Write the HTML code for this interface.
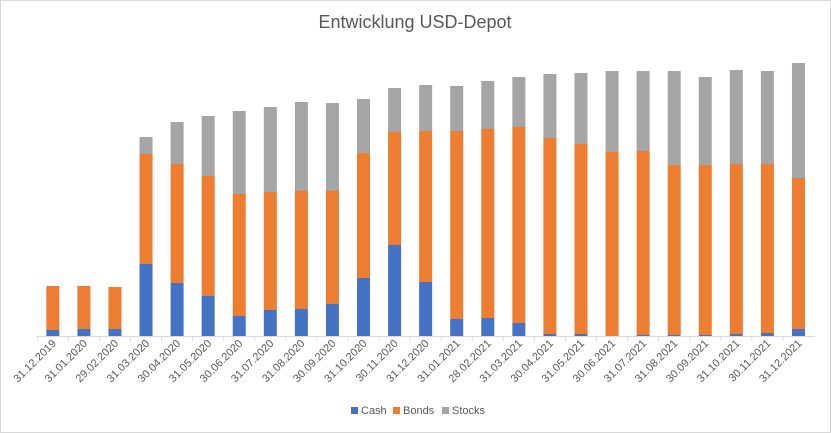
<!DOCTYPE html>
<html><head><meta charset="utf-8"><style>
html,body{margin:0;padding:0;background:#fff;}
svg{display:block;font-family:"Liberation Sans",Calibri,sans-serif;}
</style></head><body>
<svg id="chart" width="831" height="433" viewBox="0 0 831 433">
<rect x="0.5" y="0.5" width="830" height="432" fill="#fff" stroke="#d9d9d9"/>
<text x="415" y="28" text-anchor="middle" font-size="18" fill="#595959">Entwicklung USD-Depot</text>
<g id="bars"></g>
<line x1="37" y1="336.5" x2="815" y2="336.5" stroke="#d9d9d9"/>
<g id="ticks"></g>
<g id="labels"></g>
<g>
 <g><rect x="351" y="407" width="7" height="7" fill="#4472c4"/><text x="361" y="414" font-size="11" fill="#595959">Cash</text></g>
 <g><rect x="393" y="407" width="7" height="7" fill="#ed7d31"/><text x="403" y="414" font-size="11" fill="#595959">Bonds</text></g>
 <g><rect x="442" y="407" width="7" height="7" fill="#a5a5a5"/><text x="452" y="414" font-size="11" fill="#595959">Stocks</text></g>
</g>
</svg>
<script>
const categories=["31.12.2019","31.01.2020","29.02.2020","31.03.2020","30.04.2020","31.05.2020","30.06.2020","31.07.2020","31.08.2020","30.09.2020","31.10.2020","30.11.2020","31.12.2020","31.01.2021","28.02.2021","31.03.2021","30.04.2021","31.05.2021","30.06.2021","31.07.2021","31.08.2021","30.09.2021","31.10.2021","30.11.2021","31.12.2021"];
const cash=[6,7,7,72,53,40,20,26,27,32,58,91,54,17,18,13,2,2,0,1,1,1,2,3,7];
const bonds=[44,43,42,110,119,120,122,118,118,113,125,113,151,188,189,196,196,190,184,184,170,170,170,169,151];
const stocks=[0,0,0,17,42,60,83,85,89,88,54,44,46,45,48,50,64,71,81,80,94,88,94,93,115];
const series=[{name:"cash",vals:cash,color:"#4472c4"},{name:"bonds",vals:bonds,color:"#ed7d31"},{name:"stocks",vals:stocks,color:"#a5a5a5"}];
const x0=37.3,x1=814,base=336,yMax=290,plotH=290,barW=13;
const band=(x1-x0)/categories.length;
function xCenter(i){return x0+band*(i+0.5);}
function yScale(v){return base-v*plotH/yMax;}
const NS="http://www.w3.org/2000/svg";
const gB=document.getElementById('bars'),gT=document.getElementById('ticks'),gL=document.getElementById('labels');
categories.forEach((c,i)=>{
  let acc=0;
  series.forEach(s=>{
    const v=s.vals[i];
    const r=document.createElementNS(NS,'rect');
    r.setAttribute('x',xCenter(i)-barW/2);
    r.setAttribute('y',yScale(acc+v));
    r.setAttribute('width',barW);
    r.setAttribute('height',Math.max(0,yScale(acc)-yScale(acc+v)));
    r.setAttribute('fill',s.color);
    
    
    gB.appendChild(r);
    acc+=v;
  });
  const t=document.createElementNS(NS,'line');
  const tx=x0+band*i;
  t.setAttribute('x1',tx);t.setAttribute('x2',tx);t.setAttribute('y1',336);t.setAttribute('y2',341);
  t.setAttribute('stroke','#d9d9d9');
  
  
  gT.appendChild(t);
  const l=document.createElementNS(NS,'text');
  const lx=xCenter(i)+4,ly=344;
  l.setAttribute('x',lx);l.setAttribute('y',ly);
  l.setAttribute('text-anchor','end');
  l.setAttribute('font-size','11');
  l.setAttribute('fill','#595959');
  l.setAttribute('transform','rotate(-45 '+lx+' '+ly+')');
  l.textContent=c;
  
  
  gL.appendChild(l);
});
</script>
</body></html>
